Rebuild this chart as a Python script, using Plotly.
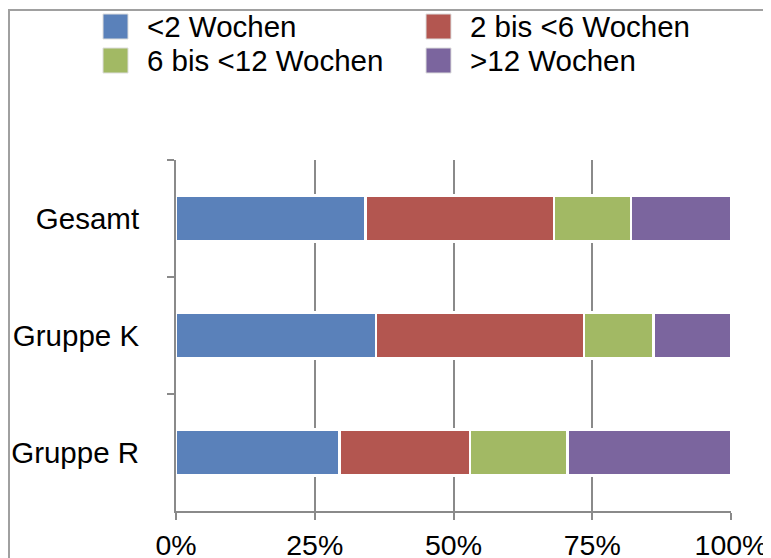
import plotly.graph_objects as go

categories = ["Gesamt", "Gruppe K", "Gruppe R"]
series_names = ["<2 Wochen", "2 bis <6 Wochen", "6 bis <12 Wochen", ">12 Wochen"]
lt2 = [34.1, 36.0, 29.5]
w2to6 = [34.0, 37.5, 23.5]
w6to12 = [13.9, 12.5, 17.5]
gt12 = [18.0, 14.0, 29.5]
colors = ["#5A81BA", "#B35650", "#A2B964", "#7B659E"]
tick_vals = [0, 25, 50, 75, 100]
tick_text = ["0%", "25%", "50%", "75%", "100%"]

OFF = 8  # page body margin
W, H = 771 - OFF, 558 - OFF
L, R, T, B = 168, 40, 152, 47
PW, PH = W - L - R, H - T - B


def px(x):
    return (x - OFF - L) / PW


def py(y):
    return (H - B - (y - OFF)) / PH


FONT = "Liberation Sans, Arial, sans-serif"
FS = 29.5

fig = go.Figure()
for name, vals, col in zip(series_names, [lt2, w2to6, w6to12, gt12], colors):
    fig.add_trace(go.Bar(
        y=categories, x=vals, name=name, orientation="h",
        marker=dict(color=col, line=dict(color="white", width=2.5)),
        width=0.395, showlegend=False,
    ))

shapes = [dict(type="rect", xref="paper", yref="paper",
               x0=px(9), x1=px(768), y0=py(620), y1=py(10),
               line=dict(color="#A0A0A0", width=2), fillcolor="rgba(0,0,0,0)",
               layer="below")]
annotations = []
legend_pos = [(103, 14), (426, 14), (103, 48), (426, 48)]
for (lx, ly), name, col in zip(legend_pos, series_names, colors):
    shapes.append(dict(type="rect", xref="paper", yref="paper",
                       x0=px(lx), x1=px(lx + 25), y0=py(ly + 25), y1=py(ly),
                       fillcolor=col, line=dict(color="#DDDDDD", width=1)))
    annotations.append(dict(xref="paper", yref="paper", x=px(lx + 42), y=py(ly + 13),
                            text=name, showarrow=False, xanchor="left", yanchor="middle",
                            font=dict(family=FONT, size=FS, color="black")))

fig.update_layout(
    width=W, height=H, barmode="stack", bargap=0.6,
    margin=dict(l=L, r=R, t=T, b=B, autoexpand=False),
    paper_bgcolor="white", plot_bgcolor="white",
    font=dict(family=FONT, size=FS, color="black"),
    shapes=shapes, annotations=annotations,
    xaxis=dict(range=[0, 100], tickvals=tick_vals, ticktext=tick_text,
               tickfont=dict(size=28.5),
               showgrid=True, gridcolor="#8A8A8A", gridwidth=1.5,
               showline=True, linecolor="#8A8A8A", linewidth=2,
               ticks="outside", ticklen=7, tickcolor="#8A8A8A", tickwidth=2,
               ticklabelstandoff=1, zeroline=False, fixedrange=True,
               automargin=False),
    yaxis=dict(categoryorder="array", categoryarray=categories, autorange="reversed",
               showline=True, linecolor="#8A8A8A", linewidth=2,
               ticks="outside", ticklen=7, tickcolor="#8A8A8A", tickwidth=2,
               tickson="boundaries", showgrid=False, ticklabelstandoff=29,
               fixedrange=True, automargin=False),
)

fig.write_html("out.html")
